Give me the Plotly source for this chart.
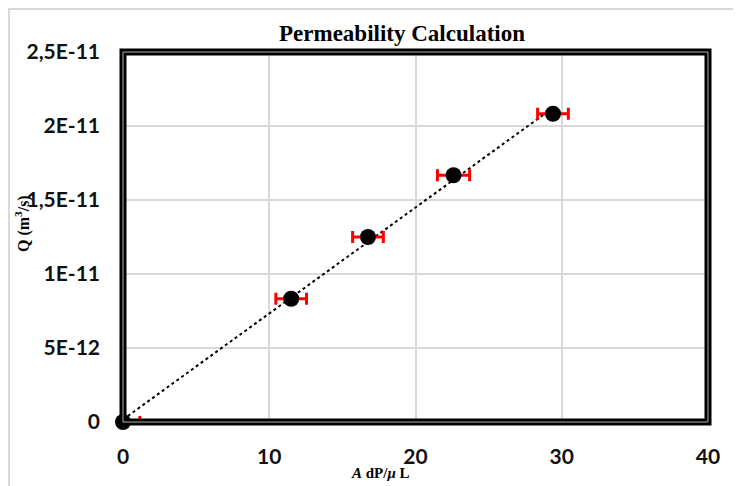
import numpy as np
import plotly.graph_objects as go

# Data
x_vals = [0.0, 11.5, 16.75, 22.6, 29.4]
q_vals = [0.0, 8.33e-12, 1.25e-11, 1.667e-11, 2.083e-11]
x_err = [1.15, 1.05, 1.05, 1.1, 1.05]
y_tickvals = [0, 5e-12, 1e-11, 1.5e-11, 2e-11, 2.5e-11]
y_ticktext = ["0", "5E-12", "1E-11", "1,5E-11", "2E-11", "2,5E-11"]
x_tickvals = [0, 10, 20, 30, 40]

# linear trendline through the data
coef = np.polyfit(x_vals, q_vals, 1)
tx = np.array([0.0, max(x_vals)])
ty = np.polyval(coef, tx)

# figure geometry (page body adds an 8px offset)
W, H = 733, 478
ML, MR, MT, MB = 115, 33, 44, 64
PW, PH = W - ML - MR, H - MT - MB


def px_x(px):  # page pixel -> paper x
    return (px - 8 - ML) / PW


def px_y(py):  # page pixel -> paper y
    return (H - MB - (py - 8)) / PH


fig = go.Figure()
fig.add_trace(go.Scatter(x=tx, y=ty, mode="lines",
                         line=dict(color="black", width=2, dash="dot"),
                         showlegend=False, hoverinfo="skip"))
fig.add_trace(go.Scatter(x=x_vals, y=q_vals, mode="markers",
                         marker=dict(color="black", size=16),
                         error_x=dict(type="data", array=x_err, color="#ff0000",
                                      thickness=3, width=6),
                         cliponaxis=False, showlegend=False))

tick_font = dict(family="Lato", size=21, color="#111111", weight="bold")
fig.update_xaxes(range=[0, 40], tickvals=x_tickvals, showgrid=True,
                 gridcolor="#d9d9d9", gridwidth=1.5, zeroline=False, showline=False,
                 tickfont=tick_font, ticklabelstandoff=20)
fig.update_yaxes(range=[0, 2.5e-11], tickvals=y_tickvals, ticktext=y_ticktext,
                 showgrid=True, gridcolor="#d9d9d9", gridwidth=1.5, zeroline=False,
                 showline=False, tickfont=tick_font, ticklabelstandoff=22)

# outer chart border
fig.add_shape(type="rect", xref="paper", yref="paper",
              x0=px_x(9), x1=px_x(760), y0=px_y(520), y1=px_y(9),
              line=dict(color="#d9d9d9", width=2), layer="below")
# thick frame
fig.add_shape(type="rect", xref="x domain", yref="y domain",
              x0=0, x1=1, y0=0, y1=1,
              line=dict(color="black", width=7), layer="above")
fig.add_shape(type="rect", xref="x domain", yref="y domain",
              x0=0, x1=1, y0=0, y1=1,
              line=dict(color="#b0b0b0", width=1), layer="above")

fig.update_layout(
    width=W, height=H,
    margin=dict(l=ML, r=MR, t=MT, b=MB),
    paper_bgcolor="white", plot_bgcolor="white",
    title=dict(text="<b>Permeability Calculation</b>", x=(402 - 8) / W, xanchor="center",
               y=1 - (33 - 8) / H, yanchor="middle",
               font=dict(family="Liberation Serif", size=23, color="black")),
    annotations=[
        dict(text="<b>Q (m<sup>3</sup>/s)</b>", xref="paper", yref="paper",
             x=px_x(22), y=px_y(224), textangle=-90,
             showarrow=False, xanchor="center", yanchor="middle",
             font=dict(family="Liberation Serif", size=16, color="black")),
        dict(text="<b><i>A</i> dP/<i>μ</i> L</b>", xref="paper", yref="paper",
             x=px_x(380), y=px_y(473),
             showarrow=False, xanchor="center", yanchor="middle",
             font=dict(family="Liberation Serif", size=15, color="black")),
    ],
)

fig.write_html("out.html")
